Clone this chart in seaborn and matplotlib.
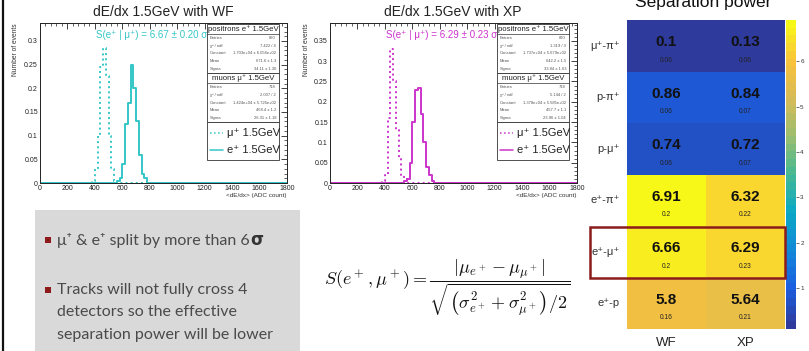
import numpy as np
import pandas as pd
import matplotlib
matplotlib.use('Agg')
import matplotlib.pyplot as plt
import seaborn as sns
from matplotlib.colors import LinearSegmentedColormap
from matplotlib.patches import Rectangle
from matplotlib.lines import Line2D
from matplotlib.ticker import MultipleLocator

sns.set_theme(style='white')
plt.rcParams['font.family'] = ['Liberation Sans', 'DejaVu Sans']
plt.rcParams['mathtext.fontset'] = 'cm'

# ---------------- data ----------------
# dE/dx histograms, 20 ADC bins (bin centres / fraction of events)
wf_mu_x = [390, 410, 430, 450, 470, 490, 510, 530, 550]
wf_mu_y = [0.005, 0.03, 0.10, 0.245, 0.285, 0.225, 0.10, 0.03, 0.005]
wf_e_x = [570, 590, 610, 630, 650, 670, 690, 710, 730, 750, 770]
wf_e_y = [0.005, 0.01, 0.04, 0.125, 0.17, 0.25, 0.20, 0.13, 0.06, 0.02, 0.01]

xp_mu_x = [390, 410, 430, 450, 470, 490, 510, 530, 550]
xp_mu_y = [0.005, 0.02, 0.16, 0.33, 0.25, 0.13, 0.06, 0.02, 0.01]
xp_e_x = [550, 570, 590, 610, 630, 650, 670, 690, 710, 730, 750]
xp_e_y = [0.005, 0.01, 0.05, 0.15, 0.23, 0.235, 0.17, 0.10, 0.04, 0.02, 0.005]

# stat boxes
wf_pos_stats = [("Entries", "870"), ("χ² / ndf", "7.422 / 4"),
                ("Constant", "1.703e+04 ± 6.056e+02"), ("Mean", "671.6 ± 1.3"),
                ("Sigma", "34.11 ± 1.30")]
wf_mu_stats = [("Entries", "718"), ("χ² / ndf", "2.007 / 2"),
               ("Constant", "1.424e+04 ± 5.726e+02"), ("Mean", "468.4 ± 1.2"),
               ("Sigma", "26.31 ± 1.18")]
xp_pos_stats = [("Entries", "870"), ("χ² / ndf", "1.319 / 3"),
                ("Constant", "1.737e+04 ± 5.679e+02"), ("Mean", "642.2 ± 1.5"),
                ("Sigma", "33.84 ± 1.63")]
xp_mu_stats = [("Entries", "718"), ("χ² / ndf", "5.144 / 2"),
               ("Constant", "1.378e+04 ± 5.585e+02"), ("Mean", "457.7 ± 1.1"),
               ("Sigma", "23.96 ± 1.04")]

# separation power table
pairs = ["μ⁺-π⁺", "p-π⁺", "p-μ⁺", "e⁺-π⁺", "e⁺-μ⁺", "e⁺-p"]
sep_wf = [0.1, 0.86, 0.74, 6.91, 6.66, 5.8]
sep_xp = [0.13, 0.84, 0.72, 6.32, 6.29, 5.64]
err_wf = [0.06, 0.06, 0.06, 0.2, 0.2, 0.16]
err_xp = [0.06, 0.07, 0.07, 0.22, 0.23, 0.21]

W, H = 809, 351
fig = plt.figure(figsize=(W / 100, H / 100), dpi=100)
fig.patch.set_facecolor('white')


def fx(x):
    return x / W


def fy(y):
    return 1 - y / H


bins = list(range(0, 1820, 20))


def root_hist(ax, mu_x, mu_y, e_x, e_y, color, ymax, ystep):
    mu = pd.DataFrame({'adc': mu_x, 'frac': mu_y})
    el = pd.DataFrame({'adc': e_x, 'frac': e_y})
    sns.histplot(data=mu, x='adc', weights='frac', bins=bins, element='step', fill=False,
                 color=color, linestyle=':', linewidth=1.4, ax=ax)
    sns.histplot(data=el, x='adc', weights='frac', bins=bins, element='step', fill=False,
                 color=color, linewidth=1.4, ax=ax)
    ax.set_xlim(0, 1800)
    ax.set_xlabel('')
    ax.set_ylabel('')
    ax.xaxis.set_major_locator(MultipleLocator(200))
    ax.xaxis.set_minor_locator(MultipleLocator(40))
    yt = [k * ystep for k in range(int(ymax / ystep) + 1)]
    ax.set_yticks(yt)
    ax.set_yticklabels(['0' if t == 0 else f'{t:g}' for t in yt])
    ax.yaxis.set_minor_locator(MultipleLocator(ystep / 5))
    ax.set_ylim(0, ymax)
    ax.tick_params(which='both', direction='in', top=True, right=True,
                   labelsize=5, pad=1.5, colors='#222222')
    ax.tick_params(which='major', length=4, width=0.6)
    ax.tick_params(which='minor', length=2, width=0.5)
    for s in ax.spines.values():
        s.set_color('#222222')
        s.set_linewidth(0.7)


def stat_box(x0, x1, y0, color, pos_stats, mu_stats):
    rowh = 7.8
    hdrh = 10
    y = y0
    for title, stats in (("positrons e⁺ 1.5GeV", pos_stats), ("muons μ⁺ 1.5GeV", mu_stats)):
        h = hdrh + rowh * len(stats)
        fig.patches.append(Rectangle((fx(x0), fy(y + h)), fx(x1 - x0), (h) / H,
                                     transform=fig.transFigure, facecolor='white',
                                     edgecolor='#333333', linewidth=0.6, zorder=5))
        fig.lines.append(Line2D([fx(x0), fx(x1)], [fy(y + hdrh), fy(y + hdrh)],
                                transform=fig.transFigure, color='#333333', lw=0.5, zorder=6))
        fig.text(fx((x0 + x1) / 2), fy(y + hdrh / 2), title, fontsize=5.6,
                 ha='center', va='center', color='#222222', zorder=7)
        for k, (name, val) in enumerate(stats):
            yy = y + hdrh + rowh * (k + 0.5)
            fig.text(fx(x0 + 3), fy(yy), name, fontsize=3, ha='left', va='center',
                     color='#555555', zorder=7)
            fig.text(fx(x1 - 3), fy(yy), val, fontsize=3, ha='right', va='center',
                     color='#555555', zorder=7)
        y += h
    # legend
    h = 38
    fig.patches.append(Rectangle((fx(x0), fy(y + h)), fx(x1 - x0), h / H,
                                 transform=fig.transFigure, facecolor='white',
                                 edgecolor='#333333', linewidth=0.6, zorder=5))
    for k, (lab, ls) in enumerate((("μ⁺ 1.5GeV", ':'), ("e⁺ 1.5GeV", '-'))):
        yy = y + 11 + 17 * k
        fig.lines.append(Line2D([fx(x0 + 3), fx(x0 + 16)], [fy(yy), fy(yy)],
                                transform=fig.transFigure, color=color, lw=1.1,
                                linestyle=ls, zorder=6))
        fig.text(fx(x0 + 20), fy(yy), lab, fontsize=8, ha='left', va='center',
                 color='#222222', zorder=7)


cyan = '#35c6c6'
magenta = '#cc33cc'
panels = [
    (40, "dE/dx 1.5GeV with WF", wf_mu_x, wf_mu_y, wf_e_x, wf_e_y, cyan, 0.338, 0.05,
     "S(e⁺ | μ⁺) = 6.67 ± 0.20 σ", wf_pos_stats, wf_mu_stats),
    (330, "dE/dx 1.5GeV with XP", xp_mu_x, xp_mu_y, xp_e_x, xp_e_y, magenta, 0.394, 0.05,
     "S(e⁺ | μ⁺) = 6.29 ± 0.23 σ", xp_pos_stats, xp_mu_stats),
]
for x0, title, mx, my, ex, ey, col, ymax, ystep, stext, ps, ms in panels:
    ax = fig.add_axes([fx(x0), fy(183), 247 / W, 160 / H])
    root_hist(ax, mx, my, ex, ey, col, ymax, ystep)
    fig.text(fx(x0 + 123), fy(12), title, fontsize=10, ha='center', va='center',
             color='#222222')
    fig.text(fx(x0 - 24), fy(23), "Number of events", fontsize=4.8, rotation=90,
             ha='center', va='top', color='#333333')
    fig.text(fx(x0 + 247), fy(195.5), "<dE/dx> (ADC count)", fontsize=4.6,
             ha='right', va='center', color='#333333')
    fig.text(fx(x0 + 112), fy(35), stext, fontsize=7, ha='center', va='center',
             color=col)
    stat_box(x0 + 167, x0 + 239, 24, col, ps, ms)

# slide edge
fig.lines.append(Line2D([fx(3), fx(3)], [0, 1], transform=fig.transFigure,
                        color='#111111', lw=1.6))

# grey text box with bullets
fig.patches.append(Rectangle((fx(35), 0), fx(300 - 35), fy(210), transform=fig.transFigure,
                             facecolor='#d9d9d9', edgecolor='none', zorder=0))
bullet_col = '#8b1a1a'
for yb in (240, 290):
    fig.patches.append(Rectangle((fx(45), fy(yb + 3)), 6 / W, 6 / H,
                                 transform=fig.transFigure, facecolor=bullet_col,
                                 edgecolor='none', zorder=2))
t1 = fig.text(fx(57), fy(240), "μ⁺ & e⁺ split by more than 6", fontsize=11.5,
              ha='left', va='center', color='#4a4a4a', family=['Lato', 'DejaVu Sans'])
renderer = fig.canvas.get_renderer()
bb = t1.get_window_extent(renderer)
fig.text(bb.x1 / W + 0.5 / W, fy(240), "σ", fontsize=12, ha='left', va='center',
         color='#333333', family=['DejaVu Sans'], weight='bold')
for k, line in enumerate(["Tracks will not fully cross 4", "detectors so the effective",
                          "separation power will be lower"]):
    fig.text(fx(57), fy(290 + 22.5 * k), line, fontsize=11.5, ha='left', va='center',
             color='#4a4a4a', family=['Lato', 'DejaVu Sans'])

# formula
fig.text(fx(447), fy(288),
         r"$S(e^+,\mu^+) = \dfrac{|\mu_{e^+} - \mu_{\mu^+}|}"
         r"{\sqrt{\left(\sigma^2_{e^+} + \sigma^2_{\mu^+}\right)/2}}$",
         fontsize=13, ha='center', va='center', color='#111111')

# ---------------- separation power heatmap ----------------
anchors = ['#2e3a9c', '#1a5fe0', '#1289d8', '#0aa8c6', '#44b894', '#9abe70',
           '#d6bb58', '#f9c23c', '#f8f818']
parula = LinearSegmentedColormap.from_list('parula_like', anchors, N=40)

sep = pd.DataFrame({'WF': sep_wf, 'XP': sep_xp}, index=pairs)
err = pd.DataFrame({'WF': err_wf, 'XP': err_xp}, index=pairs)

hax = fig.add_axes([fx(627), fy(329), 158 / W, 309 / H])
cax = fig.add_axes([fx(786), fy(329), 10 / W, 309 / H])
sns.heatmap(sep, cmap=parula, vmin=min(sep_wf + sep_xp), vmax=max(sep_wf + sep_xp),
            annot=False, cbar_ax=cax, ax=hax, cbar_kws={'ticks': [1, 2, 3, 4, 5, 6]})
for i, name in enumerate(sep.index):
    for j, col in enumerate(sep.columns):
        hax.text(j + 0.5, i + 0.43, f"{sep.loc[name, col]:g}", ha='center', va='center',
                 fontsize=11, weight='bold', color='#111111')
        hax.text(j + 0.5, i + 0.78, f"{err.loc[name, col]:g}", ha='center', va='center',
                 fontsize=4.8, color='#222222')
hax.set_xlabel('')
hax.set_ylabel('')
hax.tick_params(axis='both', length=0, pad=5)
hax.set_xticklabels(sep.columns, fontsize=9.5, color='#222222')
hax.set_yticklabels(sep.index, rotation=0, fontsize=8, color='#333333')
hax.tick_params(axis='x', pad=6)
cax.tick_params(labelsize=4.5, length=2, width=0.5, pad=1, colors='#333333')
for s in cax.spines.values():
    s.set_visible(False)

fig.text(fx(703), fy(7), "Separation power", fontsize=12.5, ha='center',
         va='baseline', color='#111111')

# red frame around e+-mu+ row
fig.patches.append(Rectangle((fx(590), fy(278)), fx(785 - 590), (278 - 227) / H,
                             transform=fig.transFigure, facecolor='none',
                             edgecolor='#8b1c1c', linewidth=1.8, zorder=10))

fig.savefig('out.png', dpi=100)
